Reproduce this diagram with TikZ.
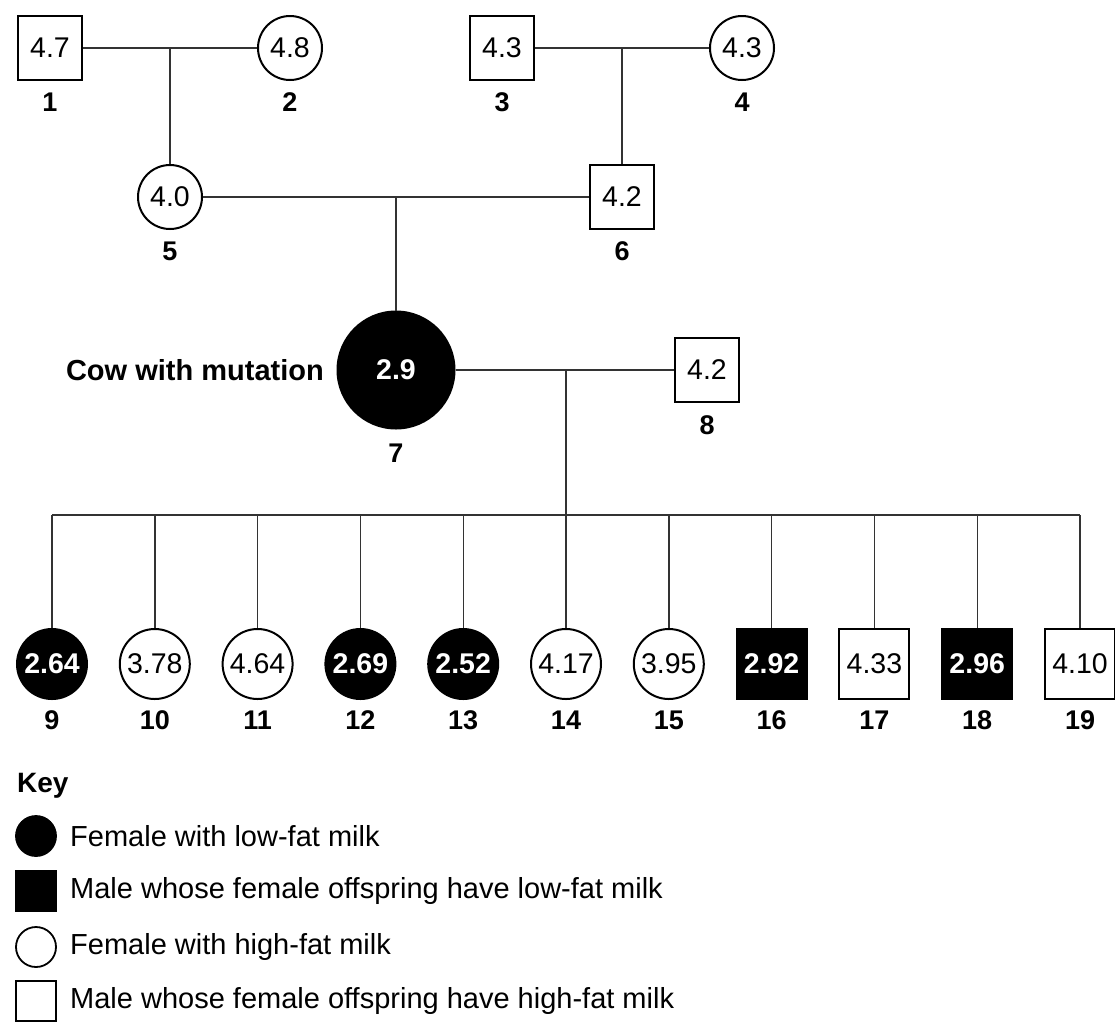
\documentclass[tikz,border=0pt]{standalone}
\usepackage{fontspec}
\setmainfont{Liberation Sans}
\newcommand\valfont{\fontsize{28.5}{30}\selectfont}
\newcommand\idfont{\fontsize{27}{29}\selectfont\bfseries}
\newcommand\keyfont{\fontsize{29}{31}\selectfont}
\tikzset{
  conn/.style={line width=1.4pt, draw=black!80},
  base/.style={draw=black, line width=2pt, inner sep=0pt, font=\valfont},
  msq/.style={base, rectangle, minimum size=64pt},
  fci/.style={base, circle, minimum size=64pt},
  kid/.style={minimum size=70pt},
  low/.style={fill=black, text=white, font=\valfont\bfseries},
  idlab/.style={font=\idfont, inner sep=0pt},
  keysym/.style={draw=black, line width=1.8pt, inner sep=0pt, minimum size=40pt},
  keytxt/.style={font=\keyfont, anchor=west, inner sep=0pt},
}
\begin{document}
\begin{tikzpicture}[x=1pt, y=-1pt]
\useasboundingbox (0,0) rectangle (1115,1021);

% grandparents
\node[msq] (n1) at (50,48) {4.7};
\node[fci] (n2) at (290,48) {4.8};
\node[msq] (n3) at (502,48) {4.3};
\node[fci] (n4) at (742,48) {4.3};
\node[idlab] (l1) at (50,102) {1};
\node[idlab] (l2) at (290,102) {2};
\node[idlab] (l3) at (502,102) {3};
\node[idlab] (l4) at (742,102) {4};

% parents
\node[fci] (n5) at (170,197) {4.0};
\node[msq] (n6) at (622,197) {4.2};
\node[idlab] (l5) at (170,251) {5};
\node[idlab] (l6) at (622,251) {6};

% the mutant cow and her mate
\node[fci, low, minimum size=117pt] (n7) at (396,370) {2.9};
\node[font=\fontsize{29}{31}\selectfont\bfseries, anchor=east, inner sep=0pt] (cow) at (324,370) {Cow with mutation};
\node[idlab] (l7) at (396,453) {7};
\node[msq] (n8) at (707,370) {4.2};
\node[idlab] (l8) at (707,425) {8};

% matings and descent lines
\coordinate (m12) at (170,48);
\coordinate (m34) at (622,48);
\coordinate (m56) at (396,197);
\coordinate (m78) at (566,370);
\draw[conn] (n1) -- (n2);
\draw[conn] (n3) -- (n4);
\draw[conn] (m12) -- (n5);
\draw[conn] (m34) -- (n6);
\draw[conn] (n5) -- (n6);
\draw[conn] (m56) -- (n7);
\draw[conn] (n7) -- (n8);

% offspring of 7 x 8
\foreach \id/\v/\shape/\fat [count=\k from 0] in {
  9/2.64/fci/low, 10/3.78/fci/high, 11/4.64/fci/high, 12/2.69/fci/low,
  13/2.52/fci/low, 14/4.17/fci/high, 15/3.95/fci/high, 16/2.92/msq/low,
  17/4.33/msq/high, 18/2.96/msq/low, 19/4.10/msq/high} {
  \pgfmathsetmacro\xx{52+\k*102.8}
  \coordinate (s\id) at (\xx,515);
  \node[\shape, kid, \fat/.try] (c\id) at (\xx,664) {\v};
  \node[idlab] (l\id) at (\xx,720) {\id};
  \draw[conn] (s\id) -- (c\id);
}
\draw[conn] (s9) -- (s19);
\draw[conn] (m78) -- (s14);

% key
\node[font=\fontsize{28}{30}\selectfont\bfseries, anchor=west, inner sep=0pt] (keyhead) at (17,786) {Key};
\node[keysym, circle, fill=black] (k1) at (36,836) {};
\node[keysym, rectangle, fill=black] (k2) at (36,891) {};
\node[keysym, circle] (k3) at (36,947) {};
\node[keysym, rectangle] (k4) at (36,1001) {};
\node[keytxt] (t1) at (70,836) {Female with low-fat milk};
\node[keytxt] (t2) at (70,891) {Male whose female offspring have low-fat milk};
\node[keytxt] (t3) at (70,947) {Female with high-fat milk};
\node[keytxt] (t4) at (70,1001) {Male whose female offspring have high-fat milk};
\end{tikzpicture}
\end{document}
